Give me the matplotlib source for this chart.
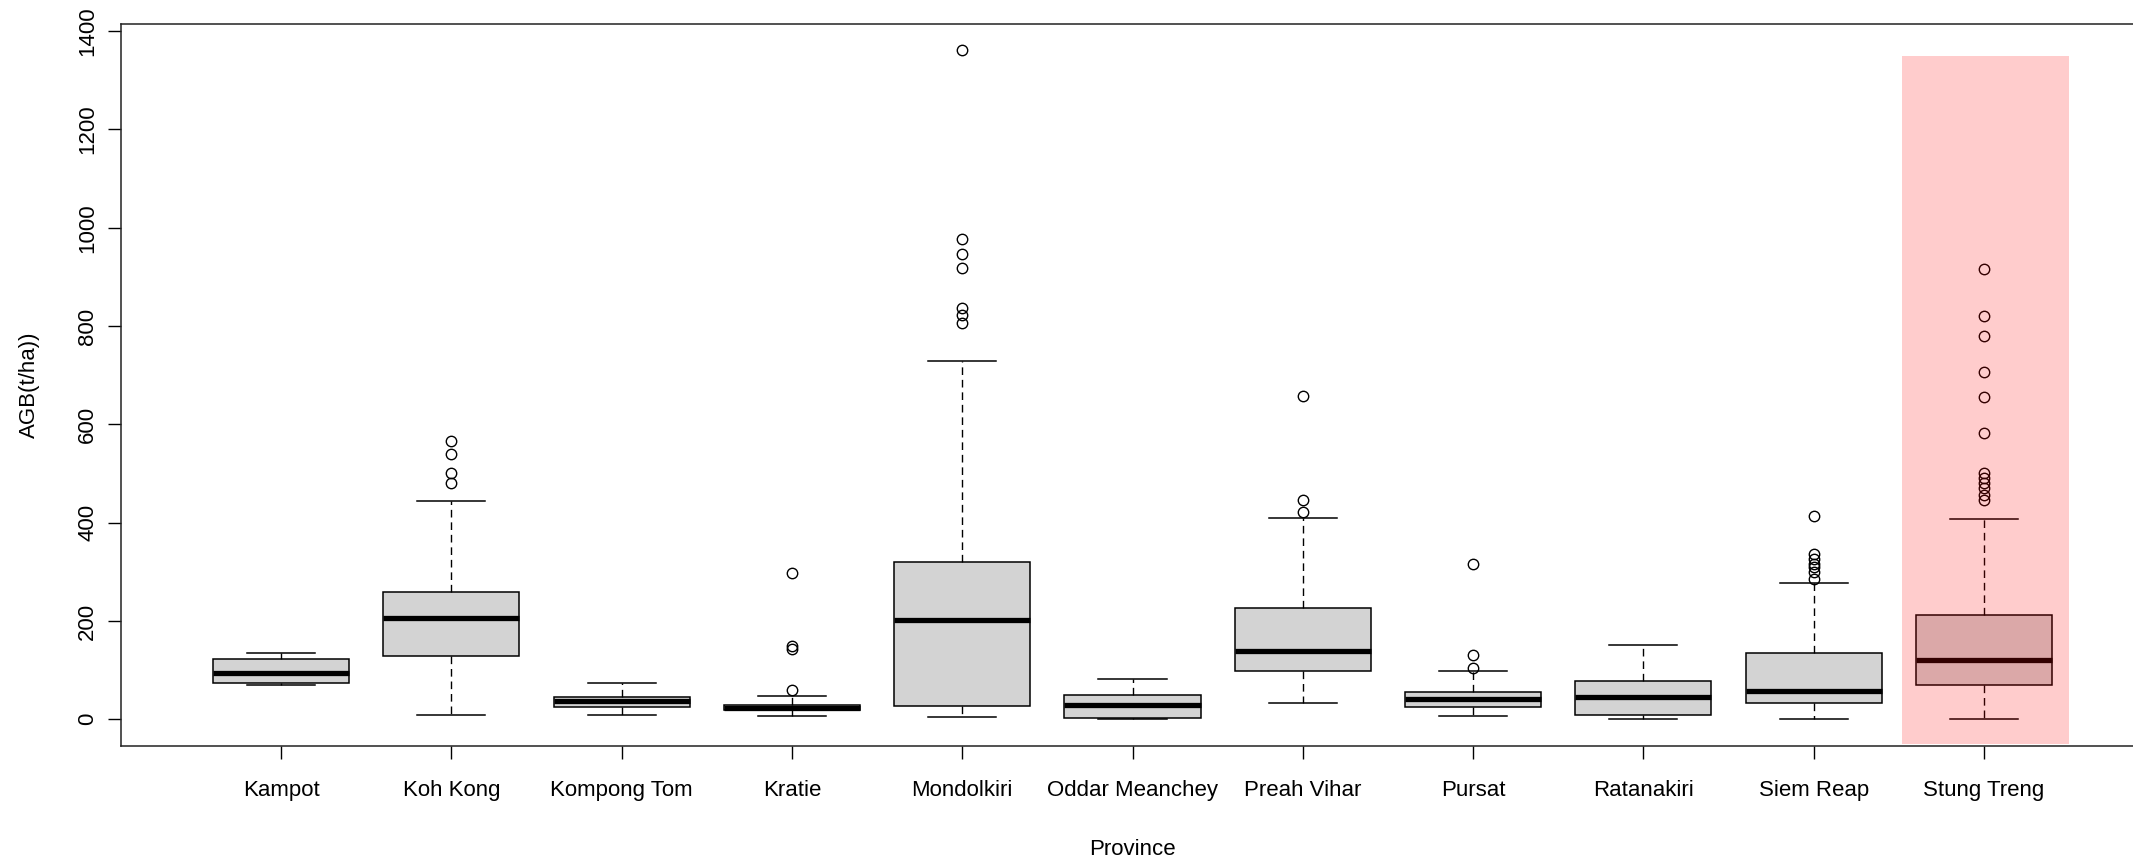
"""Boxplot of above-ground biomass (AGB) by province, Stung Treng highlighted."""
import matplotlib
matplotlib.use("Agg")
import matplotlib.pyplot as plt
from matplotlib.patches import Rectangle

plt.rcParams["font.family"] = ["Liberation Sans", "DejaVu Sans"]

provinces = ["Kampot", "Koh Kong", "Kompong Tom", "Kratie", "Mondolkiri",
             "Oddar Meanchey", "Preah Vihar", "Pursat", "Ratanakiri",
             "Siem Reap", "Stung Treng"]

# five-number summaries per province (t/ha)
whisker_low = [69, 9.5, 9.5, 6, 4.7, 0.5, 33, 6, 0, 0, 0]
q1 = [74, 128, 25.7, 18.5, 27.4, 2.5, 98, 25.7, 9.5, 33, 69]
median = [95, 205, 36.7, 23.7, 201, 30, 139.5, 41.5, 45.5, 57, 121]
q3 = [122, 259, 45.5, 29.5, 319, 49, 226, 56, 77.6, 134, 213]
whisker_high = [134, 444, 74, 47.6, 729, 82, 410, 98, 152, 277, 408]

outliers = [
    [],
    [567, 539, 500, 481],
    [],
    [297, 149, 143, 60],
    [1362, 977, 947, 919, 836, 822, 807],
    [],
    [657, 446, 422],
    [315, 131, 105],
    [],
    [414, 337, 327, 316, 310, 299, 286],
    [915, 820, 779, 706, 656, 582, 500, 490, 480, 470, 457, 446],
]

highlight = "Stung Treng"
highlight_top = 1350
highlight_bottom = -50

W, H = 2133, 857
fig = plt.figure(figsize=(W / 100, H / 100), dpi=100)
left, right, top, bottom = 121, 2144, 24, 746
ax = fig.add_axes([left / W, 1 - bottom / H, (right - left) / W, (bottom - top) / H])

stats = []
for i, name in enumerate(provinces):
    stats.append(dict(label=name, whislo=whisker_low[i], q1=q1[i], med=median[i],
                      q3=q3[i], whishi=whisker_high[i], fliers=outliers[i]))

positions = list(range(1, len(provinces) + 1))
ax.bxp(stats, positions=positions, widths=0.8, capwidths=0.4, patch_artist=True,
       boxprops=dict(facecolor="#D3D3D3", edgecolor="black", linewidth=1.1),
       medianprops=dict(color="black", linewidth=3.8, solid_capstyle="butt"),
       whiskerprops=dict(color="black", linewidth=1.0, linestyle=(0, (5.5, 3.5))),
       capprops=dict(color="black", linewidth=1.1),
       flierprops=dict(marker="o", markerfacecolor="none", markeredgecolor="black",
                       markersize=7.5, markeredgewidth=1.0))

# translucent red band over the highlighted province
hx = provinces.index(highlight) + 1
ax.add_patch(Rectangle((hx - 0.48, highlight_bottom), 0.98, highlight_top - highlight_bottom,
                       facecolor=(1, 0, 0, 0.2), edgecolor="none", zorder=5))

ax.set_xlim(0.06, 11.94)
ax.set_ylim(-54.4, 1414.4)
ax.set_xticks(positions)
ax.set_xticklabels(provinces)
ax.set_yticks(range(0, 1401, 200))
ax.set_yticklabels([str(v) for v in range(0, 1401, 200)], rotation=90, va="center")

ax.tick_params(axis="both", length=9.5, width=1.0, labelsize=16, colors="black")
ax.tick_params(axis="x", pad=15)
ax.tick_params(axis="y", pad=7)
for s in ax.spines.values():
    s.set_linewidth(1.1)
    s.set_color("#222222")

ax.set_xlabel("Province", fontsize=16, labelpad=27)
ax.set_ylabel("AGB(t/ha))", fontsize=16, labelpad=27)

fig.savefig("out.png", dpi=100)
